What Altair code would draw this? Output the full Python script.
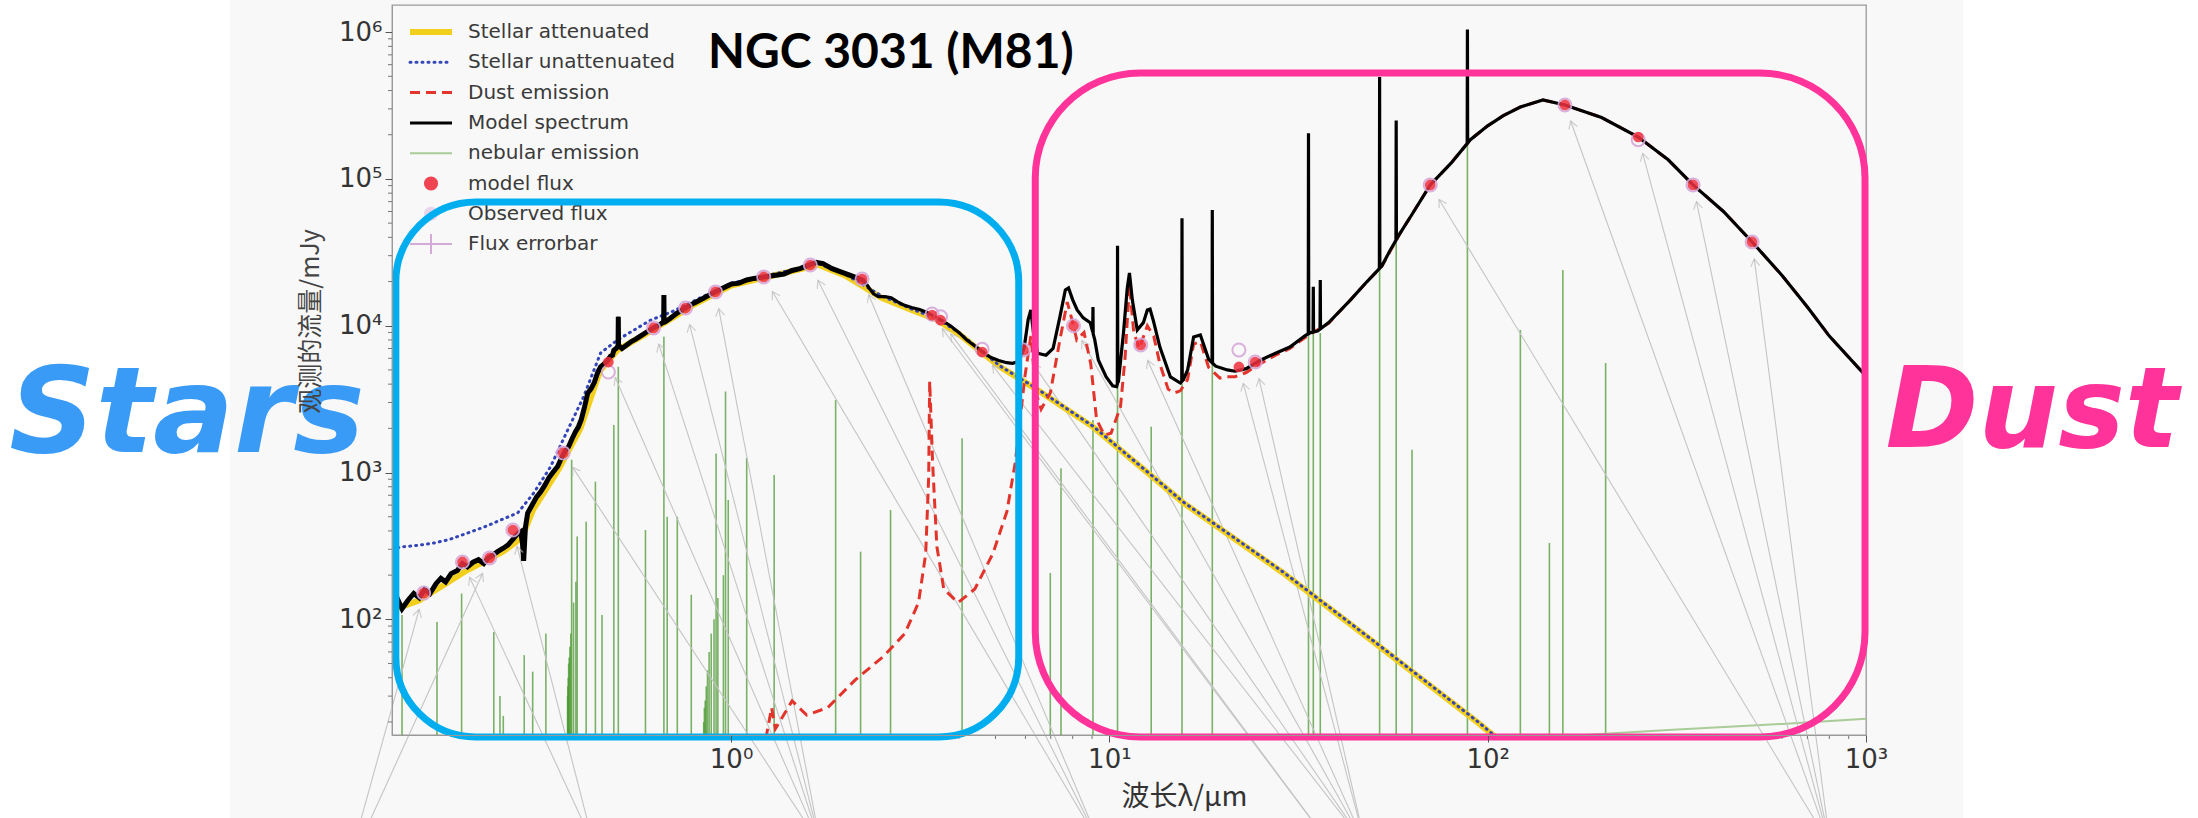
import altair as alt
import pandas as pd
import numpy as np

# ---------------- data ----------------
model_wl = [0.127,0.131,0.135,0.140,0.145,0.150,0.155,0.160,0.166,0.171,
            0.176,0.182,0.189,0.195,0.201,0.208,0.215,0.222,0.228,0.235,
            0.242,0.250,0.257,0.265,0.272,0.278,0.281,0.283,0.286,0.290,
            0.298,0.306,0.314,0.322,0.330,0.338,0.348,0.356,0.364,0.372,
            0.380,0.388,0.395,0.402,0.410,0.418,0.426,0.435,0.444,0.452,
            0.462,0.472,0.480,0.486,0.490,0.497,0.501,0.506,0.515,0.530,
            0.545,0.560,0.580,0.600,0.620,0.645,0.660,0.669,0.690,0.720,
            0.760,0.800,0.850,0.900,0.950,1.000,1.050,1.100,1.150,1.220,
            1.300,1.380,1.450,1.520,1.600,1.680,1.750,1.850,1.950,2.050,
            2.150,2.250,2.320,2.380,2.450,2.550,2.650,2.750,2.850,3.000,
            3.150,3.300,3.400,3.500,3.600,3.800,4.000,4.200,4.400,4.600,
            4.850,5.100,5.350,5.550,5.750,5.950,6.100,6.200,6.300,6.460,
            6.800,7.100,7.400,7.650,7.800,8.000,8.220,8.530,8.900,9.150,
            9.350,9.800,10.20,10.45,10.57,10.90,11.15,11.30,11.50,11.85,
            12.30,12.60,12.81,13.06,13.60,14.50,15.40,15.70,16.10,16.70,
            17.40,18.30,19.10,20.50,21.50,23.00,25.00,27.50,30.00,33.00,
            34.00,35.50,38.00,43.40,48.00,52.50,55.00,58.70,63.00,70.50,
            80.00,90.00,100.0,110.0,122.0,140.0,160.0,200.0,250.0,300.0,
            349.0,420.0,500.0,600.0,700.0,800.0,1000.0]
model_fx = [125,140,118,135,150,140,160,150,175,190,
            180,205,215,240,228,245,255,240,262,275,
            290,305,320,350,380,395,330,250,420,530,
            600,680,740,820,920,1000,1100,1250,1400,1500,
            1700,1900,2050,2300,2800,3480,3700,4100,4800,5250,
            5500,5800,6200,6300,6800,7000,7200,7300,7000,7400,
            7800,8100,8600,9100,9600,10100,10500,10600,11200,12200,
            13300,14300,15500,16800,18000,19200,19500,20500,21000,21500,
            22000,22500,23800,24500,25800,27000,26500,24500,23300,22200,
            21200,20200,18000,16500,15800,15800,15500,14600,13900,13300,
            12900,12300,11800,11300,10900,10000,9000,8000,7300,6700,
            6100,5800,5600,5550,5700,7000,11000,12800,9000,6500,
            6300,7000,11500,17500,18100,15000,12800,11300,10500,8000,
            5850,4500,3900,3850,4200,9000,18000,22900,15000,9350,
            10500,12800,13000,10900,7160,4480,4070,4300,5000,8380,
            8650,5900,5300,5000,4900,5100,5800,6500,7160,8600,
            8950,9200,10500,15000,20000,25500,32000,42800,57000,91000,
            128000,185000,230000,270000,309000,345000,319000,262000,193000,135000,
            91000,60000,37200,22000,13400,8500,4540]

# narrow emission lines on top of the model spectrum
spike_wl = [0.5035, 0.6645, 9.05, 10.51, 15.56, 18.71, 33.6, 34.6, 36.1, 51.8, 57.3, 88.4]
spike_fx = [11500, 16200, 13400, 35000, 54000, 61500, 205000, 18400, 20500, 494000, 250000, 1040000]

dust_wl = [1.236,1.28,1.31,1.45,1.585,1.80,2.13,2.53,2.88,3.13,
           3.27,3.33,3.35,3.41,3.50,3.65,3.98,4.41,4.92,5.36,
           5.64,5.83,5.98,6.2,6.4,6.6,6.98,7.4,7.74,8.0,
           8.2,8.57,8.93,9.25,9.7,10.1,10.7,11.0,11.3,11.6,
           12.0,12.6,13.1,13.6,14.3,14.8,15.4,16.1,16.7,17.4,
           18.3,19.6,20.5,21.5,23,25,27.5,30,34,38,
           43.4,48,52.5,58.7,63,70.5,80,90,100,110,
           122,140,160,200,250,300,349,420,500,600,
           700,800,1000]
dust_fx = [15.4,25,18,27.8,22.3,25,38.7,56,80,130,
           280,940,4190,1170,313,161,130,161,280,542,
           1170,2500,4500,8500,3500,2700,3480,8000,14500,10500,
           8000,9000,5500,2300,1800,1850,2800,6000,19000,9000,
           7000,10000,8500,5500,3700,3480,3600,4300,7500,7800,
           5200,4400,4500,4500,4800,5500,6300,7000,8800,10400,
           15000,20000,25400,42700,57000,91000,128000,185000,230000,270000,
           309000,345000,319000,262000,193000,135000,91000,60000,37200,22000,
           13400,8500,4540]

stel_wl = [0.127,0.15,0.2,0.25,0.28,0.30,0.35,0.40,0.45,0.50,
           0.60,0.70,0.80,1.0,1.2,1.5,1.7,2.0,2.5,3.0,
           3.5,4.0,4.6,5.15,6.46,9.07,15.7,28.8,50,94.4,130]
stel_fx = [115,135,215,290,360,560,1050,2000,4900,6800,
           8900,11300,14000,18800,21000,24000,26000,22000,15500,12800,
           11000,8800,6580,5240,3650,2040,621,207,70,19.7,10]

unat_wl = [0.127,0.134,0.150,0.164,0.180,0.201,0.225,0.246,0.273,0.301,
           0.333,0.370,0.408,0.452,0.501,0.612,0.70,0.80,1.0,1.2,
           1.5,1.7,2.0,2.5,3.0,3.5,4.0,4.6,5.15,6.46,
           9.07,15.7,28.8,50,94.4,130]
unat_fx = [300,311,320,331,350,387,430,475,531,726,
           1090,1950,3300,6520,8000,10900,12500,14800,19500,21500,
           24500,26500,22500,16000,13000,11200,9000,6700,5300,3700,
           2060,628,210,71,20,10]

neb_wl = [0.135,0.167,0.194,0.236,0.245,0.250,0.284,0.299,0.324,0.3697,
          0.3704,0.3712,0.3722,0.3734,0.3750,0.3771,0.379,0.3835,0.3889,0.392,
          0.414,0.438,0.456,0.490,0.5035,0.594,0.6645,0.678,0.721,0.785,
          0.8467,0.8502,0.8545,0.8598,0.8665,0.8750,0.8863,0.9015,0.913,0.9229,
          0.9546,0.967,0.983,1.10,1.30,1.89,2.20,2.64,4.08,6.98,
          7.45,9.05,10.51,12.9,15.56,18.71,33.6,34.6,36.1,51.8,
          57.3,63.1,88.4,122,145.6,158,205]
neb_fx = [107,96,150,82,30,22,57,44,80,30,
          35,40,50,55,65,80,1220,130,180,366,
          463,867,107,2110,5260,406,8410,500,500,147,
          20,25,28,35,45,60,80,100,1350,140,
          200,3560,650,1256,962,3120,289,556,1710,207,
          1070,2280,4500,2050,4060,5550,8930,8930,8930,25100,
          42900,1430,176000,9360,331,24000,5570]

nebc_wl = [180, 300, 600, 1000]
nebc_fx = [16.3, 17.6, 19.4, 21.0]

phot_wl    = [0.154,0.195,0.230,0.265,0.36,0.474,0.624,0.758,0.91,1.22,
              1.62,2.22,3.4,3.58,4.61,5.93,8.04,12.1,22.0,24.3,
              70.5,160,250,349,500]
model_flux = [151,246,262,406,1360,5660,9660,13200,17000,21500,
              25900,20800,11800,10900,6620,6840,10000,7400,5240,5660,
              91000,319000,193000,91000,37200]
obs_flux   = [151,246,262,406,1360,4840,9660,13200,17000,21500,
              25900,20800,12000,11500,6900,6840,10000,7400,6840,5660,
              91000,319000,185000,91000,37200]
arrow_from = [0.1007,0.4335,0.1038,0.4335,1.724,1.724,1.724,1.724,1.724,9.46,
              9.46,9.46,38.4,38.4,47.5,47.5,47.5,47.5,47.5,47.5,
              803,803,803,803,803]

legend_labels = ["Stellar attenuated", "Stellar unattenuated", "Dust emission",
                 "Model spectrum", "nebular emission", "model flux",
                 "Observed flux", "Flux errorbar"]

x_ticks = [1, 10, 100, 1000]
y_ticks = [1e2, 1e3, 1e4, 1e5, 1e6]

box_x0 = [0.130, 6.37]
box_x1 = [5.76, 994]
box_y0 = [15.8, 15.8]
box_y1 = [69700, 527000]

# ---------------- layout ----------------
W, H = 1474, 730
PAD = {"left": 392, "top": 5, "right": 332, "bottom": 83}
XDOM = [0.127, 1000]
YDOM = [16.3, 1.53e6]

xs = alt.Scale(type="log", domain=XDOM, nice=False)
ys = alt.Scale(type="log", domain=YDOM, nice=False)

sup = "datum.value==1?'10⁰':datum.value==10?'10¹':datum.value==100?'10²':datum.value==1000?'10³':datum.value==1e4?'10⁴':datum.value==1e5?'10⁵':'10⁶'"

x_axis = alt.Axis(values=x_ticks, labelExpr=sup, title="波长λ/μm", grid=False, zindex=1,
                  labelFont="DejaVu Sans", labelFontSize=26, labelColor="#333",
                  labelPadding=4, tickSize=7, tickColor="#555", domainColor="#999",
                  titleFont="Noto Sans CJK SC", titleFontSize=28, titleFontWeight="normal",
                  titleColor="#333", titleX=792, titleY=62, titleAlign="center",
                  titleBaseline="middle", labelFlush=False)
y_axis = alt.Axis(values=y_ticks, labelExpr=sup, title="观测的流量/mJy", grid=False, zindex=1,
                  labelFont="DejaVu Sans", labelFontSize=26, labelColor="#333",
                  labelPadding=3, tickSize=7, tickColor="#555", domainColor="#999",
                  titleFont="Noto Sans CJK SC", titleFontSize=25, titleFontWeight="normal",
                  titleColor="#444", titleX=-82, titleY=316, titleAlign="center",
                  titleBaseline="middle", labelFlush=False)

X = lambda f="wl": alt.X(f"{f}:Q", scale=xs, axis=x_axis)
Y = lambda f="fx": alt.Y(f"{f}:Q", scale=ys, axis=y_axis)

# model spectrum with narrow lines
lw, lf = np.log10(model_wl), np.log10(model_fx)
pts = list(zip(model_wl, model_fx))
for w, f in zip(spike_wl, spike_fx):
    for k in (0.9985, 1.0015):
        pts.append((w * k, 10 ** np.interp(np.log10(w * k), lw, lf)))
    pts.append((w, f))
model_df = pd.DataFrame(pts, columns=["wl", "fx"]).sort_values("wl")

dust_df = pd.DataFrame({"wl": dust_wl, "fx": dust_fx})
stel_df = pd.DataFrame({"wl": stel_wl, "fx": stel_fx})
unat_df = pd.DataFrame({"wl": unat_wl, "fx": unat_fx})
neb_df = pd.DataFrame({"wl": neb_wl, "fx": neb_fx})
nebc_df = pd.DataFrame({"wl": nebc_wl, "fx": nebc_fx})
phot_df = pd.DataFrame({"wl": phot_wl, "fx": model_flux, "obs": obs_flux})

# arrows (from below the axis towards each photometric point)
ppx = W / (np.log10(XDOM[1]) - np.log10(XDOM[0]))
ppy = H / (np.log10(YDOM[1]) - np.log10(YDOM[0]))
a_log_y = np.log10(YDOM[0]) - 110 / ppy
GAP = 17
arr = []
for w, f, a in zip(phot_wl, model_flux, arrow_from):
    px, py = np.log10(w) * ppx, -np.log10(f) * ppy
    ax_, ay_ = np.log10(a) * ppx, -a_log_y * ppy
    dx, dy = ax_ - px, ay_ - py
    d = np.hypot(dx, dy)
    tx, ty = px + dx / d * GAP, py + dy / d * GAP
    ang = float(np.degrees(np.arctan2(-dx, dy)) % 360)
    arr.append({"tw": 10 ** (tx / ppx), "tf": 10 ** (-ty / ppy),
                "aw": a, "af": 10 ** a_log_y, "ang": ang})
arr_df = pd.DataFrame(arr)

# minor ticks
xminor = [m * 10.0 ** e for e in range(-1, 3) for m in range(2, 10) if XDOM[0] <= m * 10.0 ** e <= XDOM[1]]
yminor = [m * 10.0 ** e for e in range(1, 6) for m in range(2, 10) if YDOM[0] <= m * 10.0 ** e <= YDOM[1]]

one = pd.DataFrame({"a": [0]})

# white margins outside the original figure (the figure itself is light grey)
margin_l = alt.Chart(one).mark_rect(color="#ffffff").encode(
    x=alt.value(-PAD["left"]), x2=alt.value(230 - PAD["left"]),
    y=alt.value(-PAD["top"]), y2=alt.value(H + PAD["bottom"]))
margin_r = alt.Chart(one).mark_rect(color="#ffffff").encode(
    x=alt.value(1963 - PAD["left"]), x2=alt.value(W + PAD["right"]),
    y=alt.value(-PAD["top"]), y2=alt.value(H + PAD["bottom"]))

neb = alt.Chart(neb_df).mark_rule(color="#4f9a35", strokeWidth=1.6, opacity=0.75).encode(
    x=X(), y=Y(), y2=alt.datum(YDOM[0]))
nebc = alt.Chart(nebc_df).mark_line(color="#a9cc98", strokeWidth=2, clip=True).encode(x=X(), y=Y())

arrows = alt.Chart(arr_df).mark_rule(color="#c4c4c4", strokeWidth=1.1).encode(
    x=X("tw"), y=Y("tf"), x2="aw:Q", y2="af:Q")
heads = alt.Chart(arr_df).mark_point(shape="M-0.6,1L0,0L0.6,1", filled=False,
                                      color="#bdbdbd", size=220, strokeWidth=1.2).encode(
    x=X("tw"), y=Y("tf"), angle=alt.Angle("ang:Q", scale=None))

stel = alt.Chart(stel_df).mark_line(color="#F2CF1D", strokeWidth=6, clip=True).encode(x=X(), y=Y())
unat = alt.Chart(unat_df).mark_line(color="#3445B8", strokeWidth=3, strokeDash=[1, 5],
                                    strokeCap="round", clip=True).encode(x=X(), y=Y())
dust = alt.Chart(dust_df).mark_line(color="#E3342C", strokeWidth=3, strokeDash=[10, 6],
                                    clip=True).encode(x=X(), y=Y())
model = alt.Chart(model_df).mark_line(color="#000000", strokeWidth=3.2, clip=True).encode(x=X(), y=Y())
# the noisy stellar part of the model spectrum looks heavier in the reference
model_uv = alt.Chart(model_df).transform_filter(alt.datum.wl < 2.3).mark_line(
    color="#000000", strokeWidth=5, strokeJoin="miter", clip=True).encode(x=X(), y=Y())

obs = alt.Chart(phot_df).mark_point(shape="circle", filled=False, color="#D6A8DA",
                                    size=170, strokeWidth=2, opacity=0.9).encode(x=X(), y=Y("obs"))
dots = alt.Chart(phot_df).mark_point(shape="circle", filled=True, color="#F0303F",
                                     size=115, opacity=0.85).encode(x=X(), y=Y())

xmin_t = alt.Chart(pd.DataFrame({"wl": xminor})).mark_rule(color="#777", strokeWidth=1).encode(
    x=X(), y=alt.value(H), y2=alt.value(H + 4))
ymin_t = alt.Chart(pd.DataFrame({"fx": yminor})).mark_rule(color="#777", strokeWidth=1).encode(
    y=Y(), x=alt.value(-4), x2=alt.value(0))

# legend (manual, inside the axes)
ROW0, DROW = 27, 30.3
ry = [ROW0 + DROW * i for i in range(len(legend_labels))]
leg_text = alt.Chart(pd.DataFrame({"t": legend_labels, "y": ry})).mark_text(
    align="left", baseline="middle", font="DejaVu Sans", fontSize=20, color="#3a3a3a").encode(
    text="t:N", x=alt.value(76), y=alt.Y("y:Q", scale=None))

def leg_line(i, **kw):
    return alt.Chart(one).mark_rule(**kw).encode(
        x=alt.value(18), x2=alt.value(60), y=alt.value(ry[i]))

leg = [
    leg_line(0, color="#F2CF1D", strokeWidth=6),
    leg_line(1, color="#3445B8", strokeWidth=3, strokeDash=[1, 5], strokeCap="round"),
    leg_line(2, color="#E3342C", strokeWidth=3, strokeDash=[10, 6]),
    leg_line(3, color="#000000", strokeWidth=3),
    leg_line(4, color="#a9cc98", strokeWidth=2),
    alt.Chart(one).mark_point(shape="circle", filled=True, color="#F0303F", size=200, opacity=0.9).encode(
        x=alt.value(39), y=alt.value(ry[5])),
    alt.Chart(one).mark_point(shape="circle", filled=True, color="#E2C6E6", size=200).encode(
        x=alt.value(39), y=alt.value(ry[6])),
    leg_line(7, color="#D4AAD6", strokeWidth=2),
    alt.Chart(one).mark_rule(color="#D4AAD6", strokeWidth=2).encode(
        x=alt.value(39), y=alt.value(ry[7] - 10), y2=alt.value(ry[7] + 10)),
]

title = alt.Chart(pd.DataFrame({"t": ["NGC 3031 (M81)"]})).mark_text(
    align="left", baseline="alphabetic", font="Lato", fontWeight="bold", fontSize=48, color="#000").encode(
    text="t:N", x=alt.value(316), y=alt.value(63))

boxes_df = pd.DataFrame({"x0": box_x0, "x1": box_x1, "y0": box_y0, "y1": box_y1})
blue_box = alt.Chart(boxes_df.iloc[[0]]).mark_rect(
    fillOpacity=0, stroke="#00AEEF", strokeWidth=7, cornerRadius=80).encode(
    x=X("x0"), x2="x1:Q", y=Y("y0"), y2="y1:Q")
pink_box = alt.Chart(boxes_df.iloc[[1]]).mark_rect(
    fillOpacity=0, stroke="#FF3399", strokeWidth=7, cornerRadius=105).encode(
    x=X("x0"), x2="x1:Q", y=Y("y0"), y2="y1:Q")

stars = alt.Chart(pd.DataFrame({"t": ["Stars"]})).mark_text(
    align="center", baseline="alphabetic", font="DejaVu Sans", fontStyle="italic",
    fontWeight="bold", fontSize=120, color="#3A9BF7").encode(
    text="t:N", x=alt.value(187 - PAD["left"]), y=alt.value(447))
dust_txt = alt.Chart(pd.DataFrame({"t": ["Dust"]})).mark_text(
    align="center", baseline="alphabetic", font="DejaVu Sans", fontStyle="italic",
    fontWeight="bold", fontSize=112, color="#FF3399").encode(
    text="t:N", x=alt.value(2032 - PAD["left"]), y=alt.value(442))

chart = alt.layer(
    margin_l, margin_r, neb, nebc, arrows, stel, unat, dust, model, model_uv, obs, dots, heads,
    xmin_t, ymin_t, leg_text, *leg, title, blue_box, pink_box, stars, dust_txt
).properties(
    width=W, height=H, padding=PAD, autosize=alt.AutoSizeParams(type="none"),
    background="#F8F8F8"
).configure_view(stroke="#9a9a9a", strokeWidth=1.3)

chart.save("out.html", embed_options={"renderer": "svg", "actions": False})
